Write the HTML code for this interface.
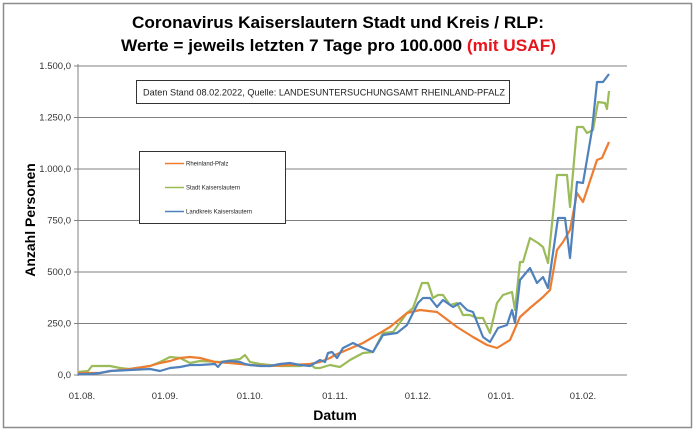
<!DOCTYPE html>
<html><head><meta charset="utf-8"><style>
html,body{margin:0;padding:0;background:#fff;}
svg{display:block;font-family:"Liberation Sans",Arial,sans-serif;}
</style></head><body>
<svg width="696" height="432" viewBox="0 0 696 432" xmlns="http://www.w3.org/2000/svg">
<rect x="3.5" y="3.5" width="688" height="424" fill="#fff" stroke="#8c8c8c" stroke-width="1.5"/>
<text x="338" y="28" text-anchor="middle" font-size="17" font-weight="bold" textLength="412" lengthAdjust="spacingAndGlyphs">Coronavirus Kaiserslautern Stadt und Kreis / RLP:</text>
<text x="121" y="51" font-size="17" font-weight="bold" textLength="435" lengthAdjust="spacingAndGlyphs">Werte = jeweils letzten 7 Tage pro 100.000 <tspan fill="#e8141b">(mit USAF)</tspan></text>
<g stroke="#808080" stroke-width="1">
<line x1="78" y1="66" x2="627" y2="66"/><line x1="78" y1="117.5" x2="627" y2="117.5"/>
<line x1="78" y1="169" x2="627" y2="169"/><line x1="78" y1="220.5" x2="627" y2="220.5"/>
<line x1="78" y1="272" x2="627" y2="272"/><line x1="78" y1="323.5" x2="627" y2="323.5"/>
<line x1="78" y1="375" x2="627" y2="375"/>
<line x1="78" y1="64" x2="78" y2="376"/>
<line x1="74" y1="66" x2="78" y2="66"/><line x1="74" y1="117.5" x2="78" y2="117.5"/><line x1="74" y1="169" x2="78" y2="169"/><line x1="74" y1="220.5" x2="78" y2="220.5"/><line x1="74" y1="272" x2="78" y2="272"/><line x1="74" y1="323.5" x2="78" y2="323.5"/><line x1="74" y1="375" x2="78" y2="375"/>
</g>
<g font-size="9.5" fill="#333" text-anchor="end">
<text x="71" y="69">1.500,0</text><text x="71" y="120.5">1.250,0</text><text x="71" y="172">1.000,0</text><text x="71" y="223.5">750,0</text><text x="71" y="275">500,0</text><text x="71" y="326.5">250,0</text><text x="71" y="378">0,0</text>
</g>
<g font-size="9.5" fill="#333" text-anchor="middle">
<text x="82" y="399">01.08.</text><text x="165" y="399">01.09.</text><text x="250" y="399">01.10.</text><text x="335" y="399">01.11.</text><text x="418" y="399">01.12.</text><text x="501" y="399">01.01.</text><text x="583" y="399">01.02.</text>
</g>
<text x="335" y="420" text-anchor="middle" font-size="14" font-weight="bold">Datum</text>
<text transform="translate(35,220) rotate(-90)" text-anchor="middle" font-size="14" font-weight="bold">Anzahl Personen</text>
<rect x="136.5" y="80.5" width="373" height="23" fill="#fff" stroke="#333"/>
<text x="143" y="95.5" font-size="9.5" fill="#222" textLength="362" lengthAdjust="spacingAndGlyphs">Daten Stand 08.02.2022, Quelle: LANDESUNTERSUCHUNGSAMT RHEINLAND-PFALZ</text>
<rect x="139.5" y="151.5" width="146" height="72" fill="#fff" stroke="#333"/>
<line x1="165" y1="163.5" x2="184" y2="163.5" stroke="#ed7d31" stroke-width="1.5"/>
<line x1="165" y1="187.5" x2="184" y2="187.5" stroke="#9bbb59" stroke-width="1.5"/>
<line x1="165" y1="211.5" x2="184" y2="211.5" stroke="#4f81bd" stroke-width="1.5"/>
<g font-size="6" fill="#222"><text x="186" y="165.5">Rheinland-Pfalz</text><text x="186" y="189.5">Stadt Kaiserslautern</text><text x="186" y="213.5">Landkreis Kaiserslautern</text></g>
<g fill="none" stroke-width="2.2" stroke-linejoin="round">
<polyline stroke="#9bbb59" points="78,372 88,371 92,366 110,366 120,368 130,369 150,366 160,362 170,357 180,358 190,363 200,361 220,362 240,359 245,355 250,362 260,364 280,366 300,366 310,364 315,368 320,368 330,365 340,367 350,360 363,353 373,352 383,333 393,332 407,313 413,308 422,283 428,283 433,298 438,295 443,295 450,305 457,303 463,315 470,315 477,318 483,318 490,333 497,303 503,295 512,292 515,310 520,262 523,262 530,238 538,243 543,247 548,263 557,175 567,175 570,207 577,127 583,127 587,133 593,130 598,102 605,103 607,109 609,91"/>
<polyline stroke="#ed7d31" points="78,373 100,373 111,371 130,369 150,366 160,363 170,361 180,358 190,357 200,358 215,362 230,363 250,365 270,366 290,365 310,364 320,362 330,358 335,355 363,343 390,327 407,313 420,310 437,312 457,327 473,337 487,345 497,348 510,340 520,317 530,308 543,297 550,290 557,250 563,242 570,230 577,193 583,202 597,160 602,158 609,142"/>
<polyline stroke="#4f81bd" points="78,374 90,374 100,373 110,371 130,370 150,369 160,371 170,368 180,367 190,365 200,365 215,364 218,367 222,362 230,361 240,362 245,364 250,365 260,366 270,366 280,364 290,363 300,365 310,366 320,360 325,362 328,353 332,352 337,358 343,348 353,343 363,348 373,352 383,335 397,333 407,325 418,303 423,298 430,298 437,307 443,300 453,307 460,303 467,310 473,312 483,337 490,342 498,328 507,325 512,310 515,323 520,280 530,268 537,283 543,277 548,288 558,218 565,218 570,258 577,182 583,183 592,130 597,82 603,82 609,74"/>
</g>
</svg>
</body></html>
